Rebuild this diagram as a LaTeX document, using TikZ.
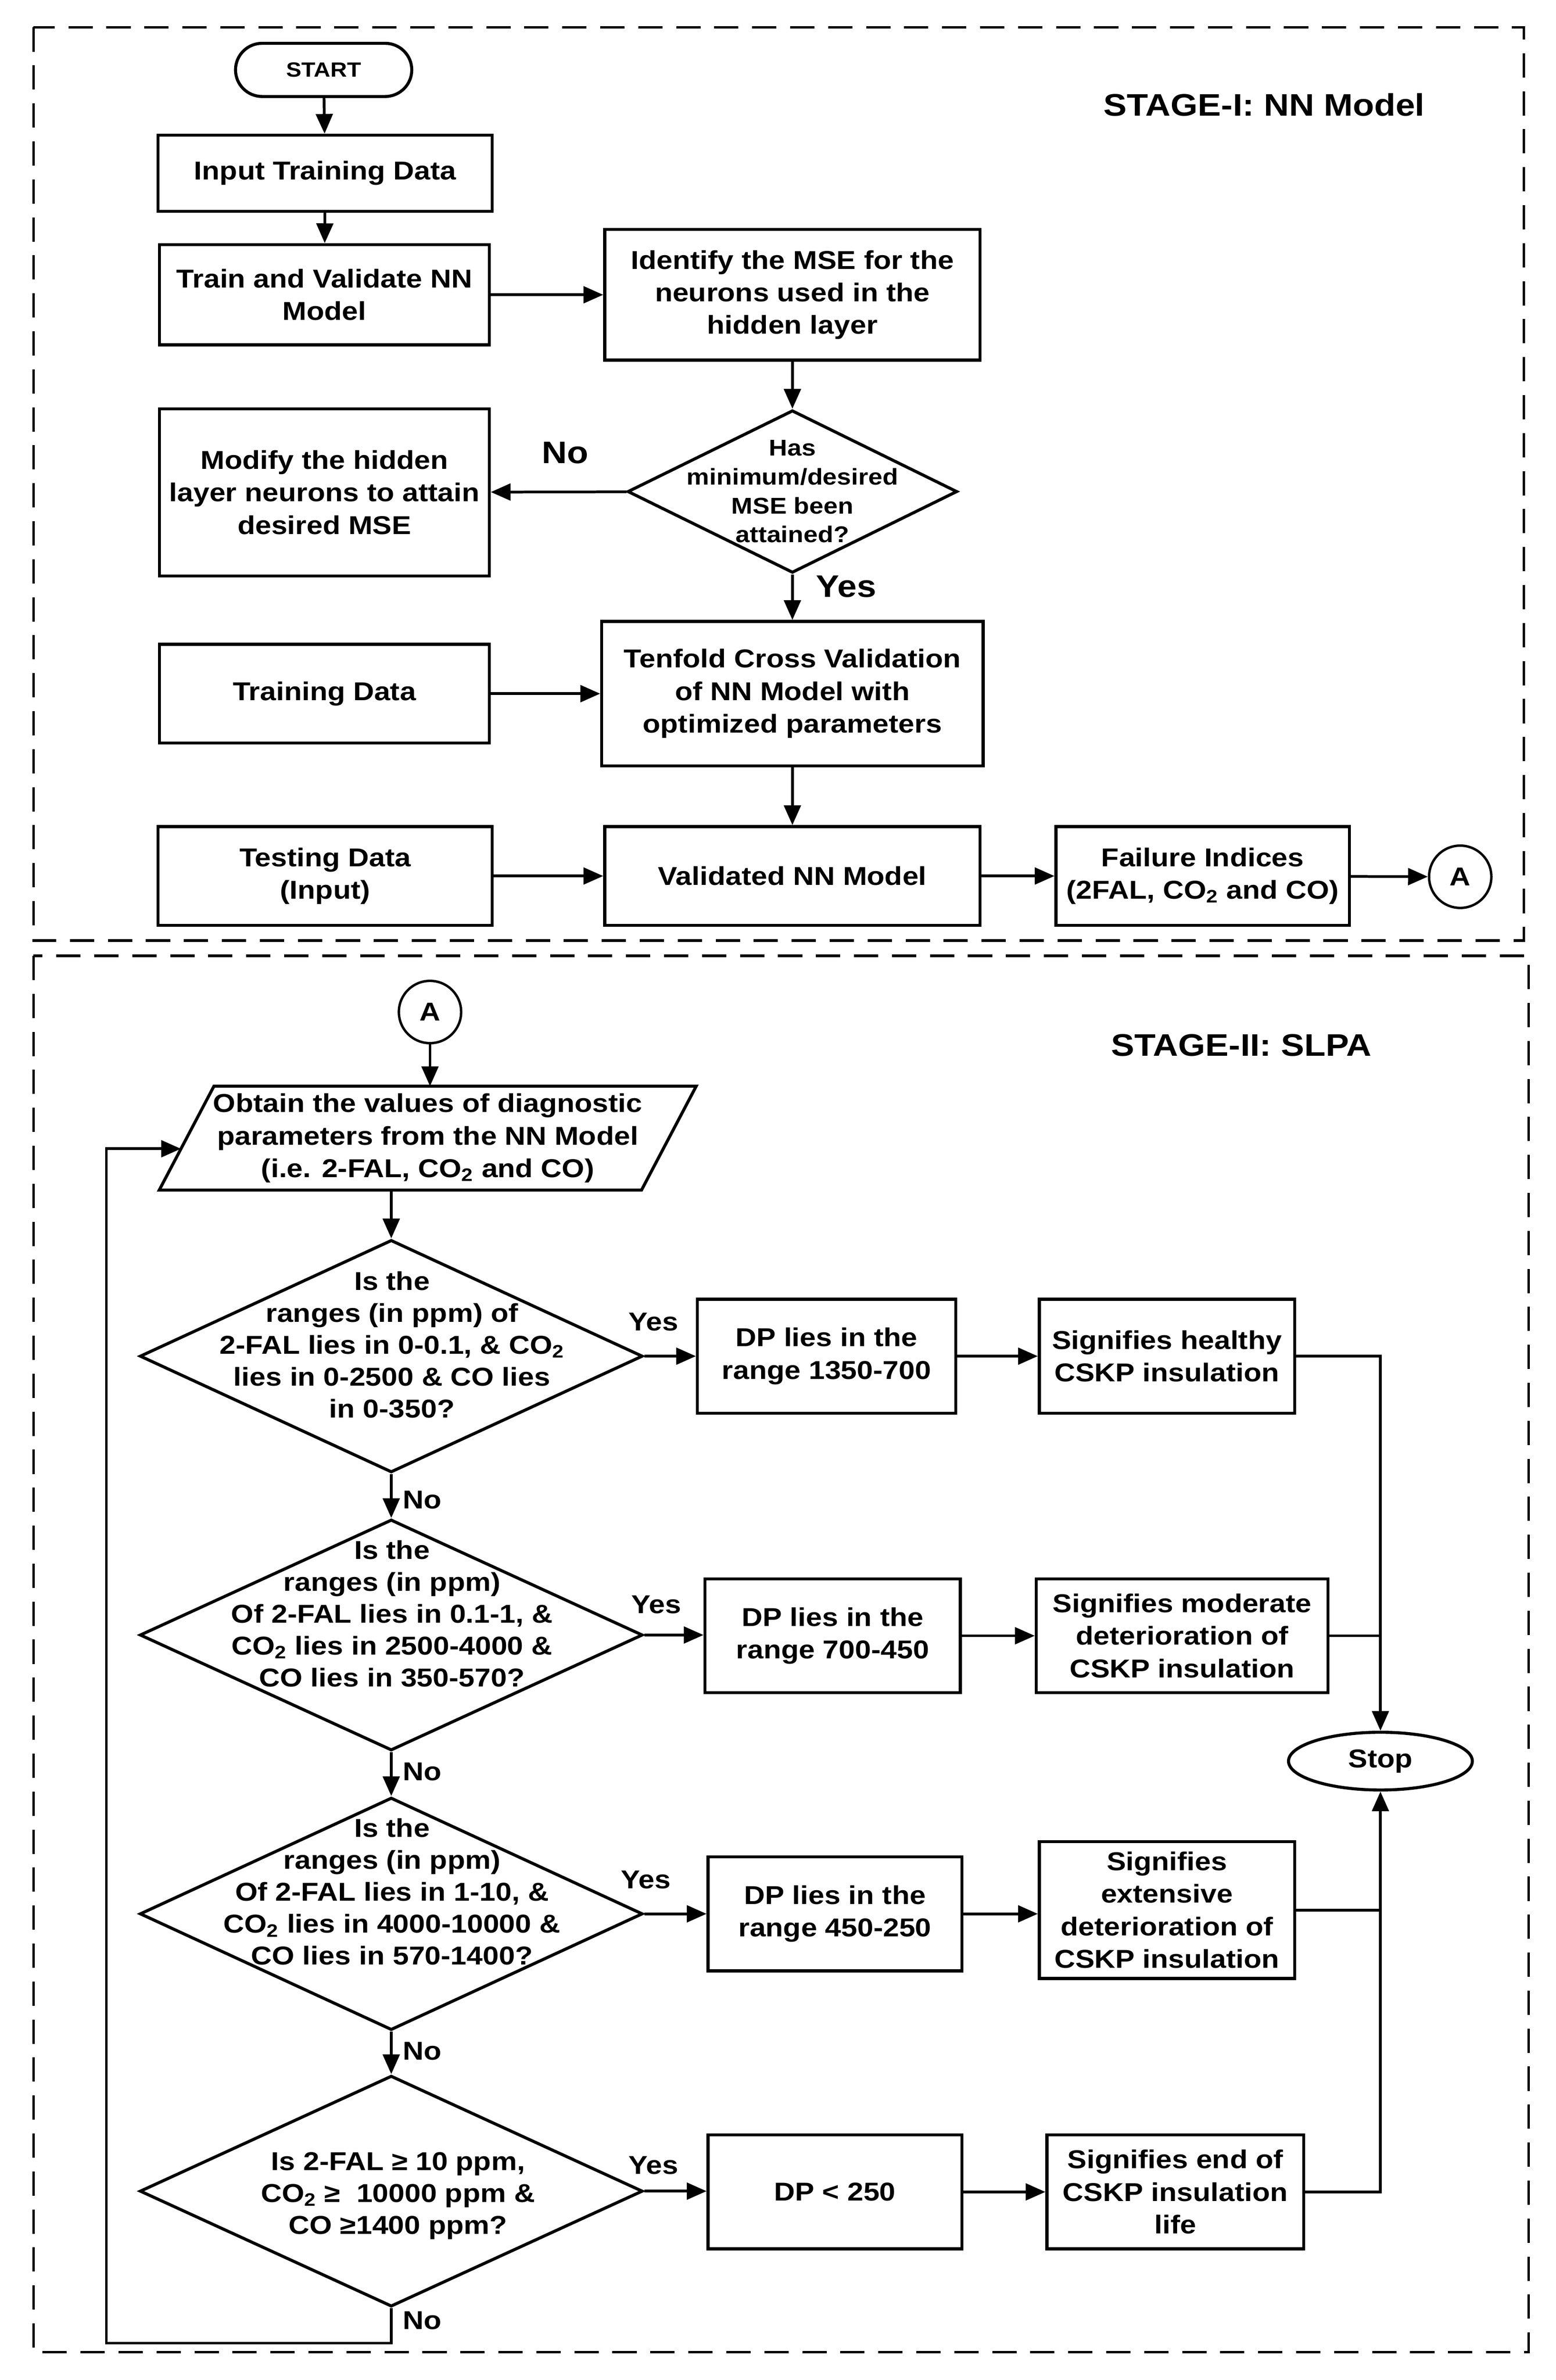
\documentclass[tikz,border=0pt]{standalone}
\usepackage{fontspec}
\setmainfont{Liberation Sans}[FakeStretch=1.12]
\usetikzlibrary{arrows.meta,shapes.geometric,shapes.misc,positioning,calc}
\begin{document}
\begin{tikzpicture}[x=1pt,y=-1pt,
  every node/.style={font=\bfseries},
  box/.style={draw, line width=2pt, align=center, inner sep=2pt, font=\bfseries\fontsize{17}{21.4}\selectfont},
  dia/.style={draw, shape=diamond, line width=2pt, inner sep=0pt},
  diatext/.style={align=center, inner sep=0pt, font=\bfseries\fontsize{17}{21}\selectfont},
  lbl/.style={inner sep=0pt, font=\bfseries\fontsize{17}{20}\selectfont},
  biglbl/.style={inner sep=0pt, font=\bfseries\fontsize{20.5}{24}\selectfont},
  conn/.style={draw, circle, line width=1.6pt, inner sep=0pt, minimum size=41pt, font=\bfseries\fontsize{17}{20}\selectfont},
  arr/.style={line width=1.8pt, -{Triangle[length=13pt,width=11pt]}},
  ln/.style={line width=1.8pt},
  stage/.style={draw, line width=1.6pt, dash pattern=on 16pt off 9pt}
]
\useasboundingbox (0,0) rectangle (1024,1566.3);

% ---------- Stage frames ----------
\draw[stage] (22,18) rectangle (1003,619);
\draw[stage] (22,629) rectangle (1006,1548);
\node[biglbl] (s1title) at (832,69) {STAGE-I: NN Model};
\node[biglbl] (s2title) at (817,688) {STAGE-II: SLPA};

% ---------- Stage I ----------
\node[draw, rounded rectangle, line width=2pt, minimum width=116pt, minimum height=35pt, inner sep=0pt,
      font=\bfseries\fontsize{13.5}{16}\selectfont] (start) at (213,46) {START};
\node[box, minimum width=220pt, minimum height=50pt] (input) at (214,114) {Input Training Data};
\node[box, minimum width=217pt, minimum height=66pt] (train) at (213.5,194) {Train and Validate NN\\Model};
\node[box, minimum width=247pt, minimum height=86pt] (ident) at (521.5,194) {Identify the MSE for the\\neurons used in the\\hidden layer};
\node[dia, minimum width=217pt, minimum height=107pt] (has) at (521.5,323.5) {};
\node[diatext, font=\bfseries\fontsize{15}{19}\selectfont] (hast) at (521.5,323.5) {Has\\minimum/desired\\MSE been\\attained?};
\node[box, minimum width=217pt, minimum height=110pt] (modify) at (213.5,324) {Modify the hidden\\layer neurons to attain\\desired MSE};
\node[box, minimum width=251pt, minimum height=95pt] (tenfold) at (521.5,456.5) {Tenfold Cross Validation\\of NN Model with\\optimized parameters};
\node[box, minimum width=217pt, minimum height=65pt] (training) at (213.5,456.5) {Training Data};
\node[box, minimum width=220pt, minimum height=65pt] (testing) at (214,576.5) {Testing Data\\(Input)};
\node[box, minimum width=247pt, minimum height=65pt] (valid) at (521.5,576.5) {Validated NN Model};
\node[box, minimum width=193pt, minimum height=65pt] (fail) at (791.5,576.5) {Failure Indices\\(2FAL, CO\textsubscript{2} and CO)};
\node[conn] (a1) at (961,577) {A};
\node[biglbl] (no1) at (372,298) {No};
\node[biglbl, anchor=west] (yes1) at (537,386) {Yes};

\draw[arr] (start) -- (input);
\draw[arr] (input) -- (train);
\draw[arr] (train) -- (ident);
\draw[arr] (ident) -- (has);
\draw[arr] (has) -- (modify);
\draw[arr] (has) -- (tenfold);
\draw[arr] (training) -- (tenfold);
\draw[arr] (tenfold) -- (valid);
\draw[arr] (testing) -- (valid);
\draw[arr] (valid) -- (fail);
\draw[arr] (fail) -- (a1);

% ---------- Stage II ----------
\node[conn] (a2) at (283,666) {A};
\node[minimum width=317pt, minimum height=68pt, inner sep=0pt, align=center,
      font=\bfseries\fontsize{17}{21.4}\selectfont] (obtain) at (281.5,749)
      {Obtain the values of diagnostic\\parameters from the NN Model\\(i.e. 2-FAL, CO\textsubscript{2} and CO)};
\draw[line width=2pt] ([xshift=18pt]obtain.north west) -- ([xshift=18pt]obtain.north east)
   -- ([xshift=-18pt]obtain.south east) -- ([xshift=-18pt]obtain.south west) -- cycle;

\node[dia, minimum width=331pt, minimum height=153pt] (d1) at (257.5,892.5) {};
\node[diatext] (d1t) at (258,885) {Is the\\ranges (in ppm) of\\2-FAL lies in 0-0.1, \& CO\textsubscript{2}\\lies in 0-2500 \& CO lies\\in 0-350?};
\node[dia, minimum width=331pt, minimum height=152pt] (d2) at (257.5,1076) {};
\node[diatext] (d2t) at (258,1062) {Is the\\ranges (in ppm)\\Of 2-FAL lies in 0.1-1, \&\\CO\textsubscript{2} lies in 2500-4000 \&\\CO lies in 350-570?};
\node[dia, minimum width=331pt, minimum height=153pt] (d3) at (257.5,1259.5) {};
\node[diatext] (d3t) at (258,1245) {Is the\\ranges (in ppm)\\Of 2-FAL lies in 1-10, \&\\CO\textsubscript{2} lies in 4000-10000 \&\\CO lies in 570-1400?};
\node[dia, minimum width=331pt, minimum height=152pt] (d4) at (257.5,1442) {};
\node[diatext] (d4t) at (262,1445) {Is 2-FAL ≥ 10 ppm,\\CO\textsubscript{2} ≥\ \ 10000 ppm \&\\CO ≥1400 ppm?};

\node[box, minimum width=170pt, minimum height=75pt] (dp1) at (544,892.5) {DP lies in the\\range 1350-700};
\node[box, minimum width=168pt, minimum height=75pt] (heal) at (768,892.5) {Signifies healthy\\CSKP insulation};
\node[box, minimum width=168pt, minimum height=75pt] (dp2) at (548,1076.5) {DP lies in the\\range 700-450};
\node[box, minimum width=192pt, minimum height=75pt] (mod) at (778,1076.5) {Signifies moderate\\deterioration of\\CSKP insulation};
\node[box, minimum width=167pt, minimum height=75pt] (dp3) at (549.5,1259.5) {DP lies in the\\range 450-250};
\node[box, minimum width=168pt, minimum height=90pt] (ext) at (768,1257) {Signifies\\extensive\\deterioration of\\CSKP insulation};
\node[box, minimum width=167pt, minimum height=75pt] (dp4) at (549.5,1442.5) {DP < 250};
\node[box, minimum width=169pt, minimum height=75pt] (endl) at (773.5,1442.5) {Signifies end of\\CSKP insulation\\life};
\node[draw, ellipse, line width=2pt, minimum width=121pt, minimum height=38pt, inner sep=0pt,
      font=\bfseries\fontsize{17}{20}\selectfont] (stop) at (908.5,1159) {Stop};

\node[lbl] (y1) at (430,870) {Yes};
\node[lbl] (y2) at (432,1056) {Yes};
\node[lbl] (y3) at (425,1237) {Yes};
\node[lbl] (y4) at (430,1425) {Yes};
\node[lbl, anchor=west] (n1) at (265,987) {No};
\node[lbl, anchor=west] (n2) at (265,1166) {No};
\node[lbl, anchor=west] (n3) at (265,1350) {No};
\node[lbl, anchor=west] (n4) at (265,1527) {No};

\coordinate (fb) at (70,1542);
\coordinate (fbin) at ($(obtain.west)+(-3.7,7)$);

\draw[arr] (a2.south) -- (a2.south |- obtain.north);
\draw[arr] (obtain.south -| d1.north) -- (d1.north);
\draw[arr] (d1.south) -- (d2.north);
\draw[arr] (d2.south) -- (d3.north);
\draw[arr] (d3.south) -- (d4.north);
\draw[arr] (d1.east) -- (dp1.west);
\draw[arr] (d2.east) -- (d2.east -| dp2.west);
\draw[arr] (d3.east) -- (d3.east -| dp3.west);
\draw[arr] (d4.east) -- (d4.east -| dp4.west);
\draw[arr] (dp1) -- (heal);
\draw[arr] (dp2) -- (mod);
\draw[arr] (dp3.east) -- (dp3.east -| ext.west);
\draw[arr] (dp4) -- (endl);
\draw[arr] (heal.east) -| (stop.north);
\draw[ln] (mod.east) -- (mod.east -| stop.north);
\draw[ln] (ext.east) -- (ext.east -| stop.south);
\draw[arr] (endl.east) -| (stop.south);
\draw[arr] (d4.south) |- (fb) |- (fbin);
\end{tikzpicture}
\end{document}
